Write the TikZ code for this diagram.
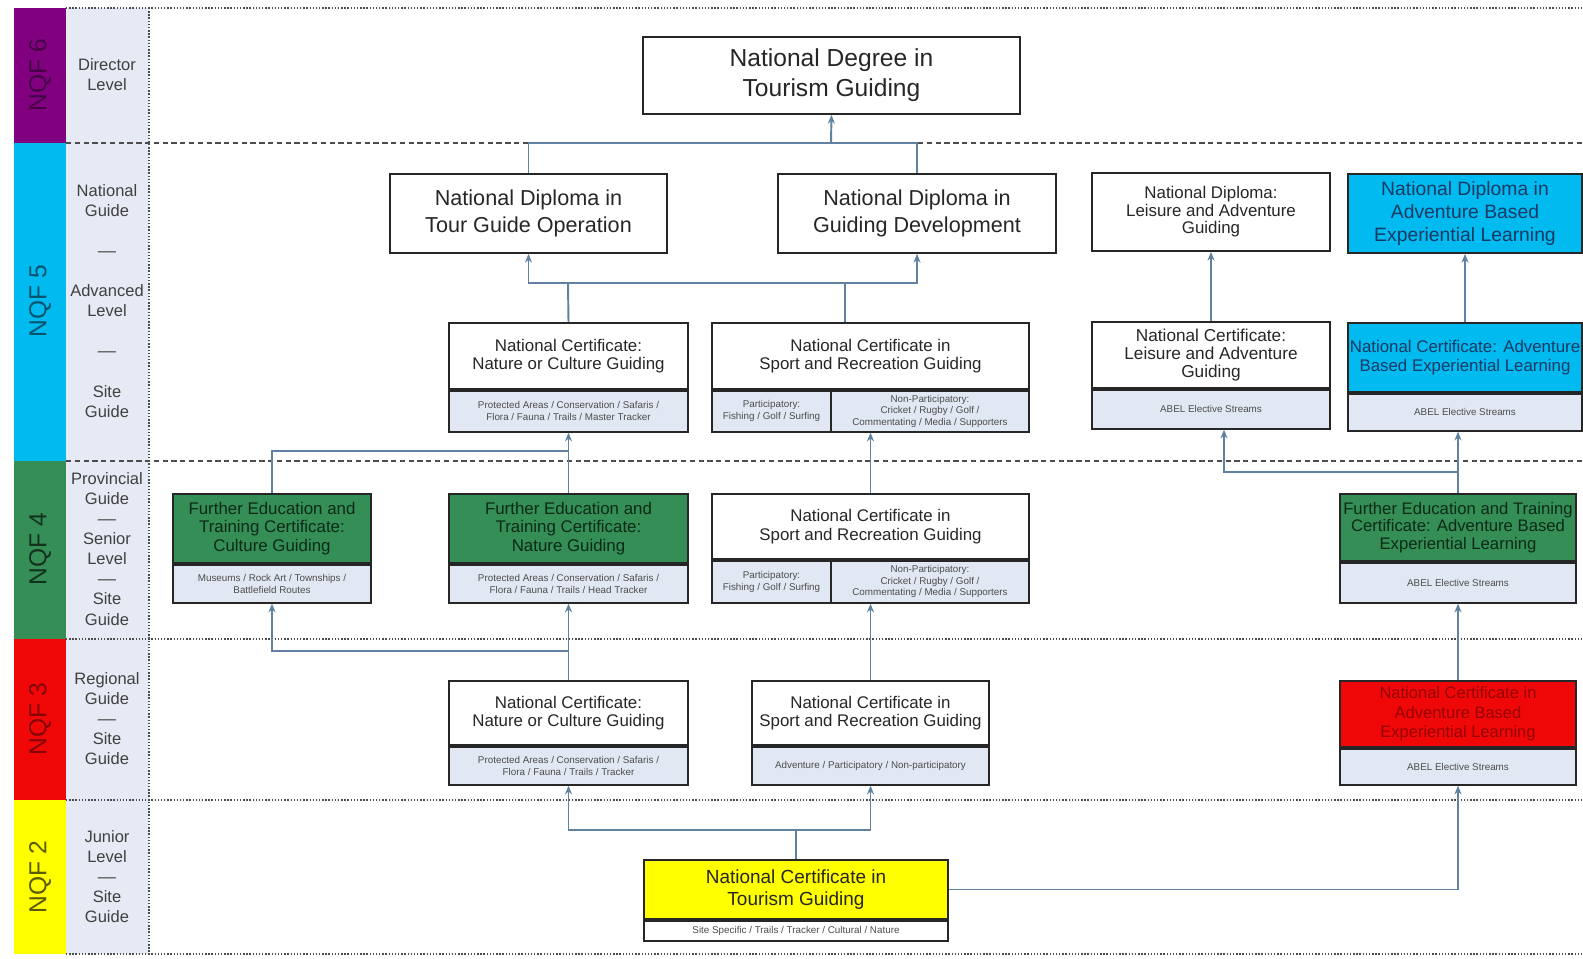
\documentclass[tikz,border=0pt]{standalone}
\usepackage{fontspec}
\setmainfont{Liberation Sans}
\usetikzlibrary{arrows.meta, positioning}

\definecolor{nqfsix}{RGB}{128,0,128}
\definecolor{nqffive}{RGB}{0,186,240}
\definecolor{nqffour}{RGB}{52,142,86}
\definecolor{nqfthree}{RGB}{240,8,8}
\definecolor{nqftwo}{RGB}{255,255,0}
\definecolor{labelgray}{RGB}{229,234,244}
\definecolor{subgray}{RGB}{226,232,243}
\definecolor{linkblue}{RGB}{96,130,160}
\definecolor{bluetext}{RGB}{22,58,100}
\definecolor{greentext}{RGB}{12,42,22}
\definecolor{redtext}{RGB}{150,0,0}

\tikzset{
  certbox/.style={draw=black!85, line width=1pt, align=center, inner sep=1pt, text=black!85},
  subbox/.style={certbox, fill=subgray, text=black!70, font=\fontsize{5.6}{7}\selectfont},
  bigfont/.style={font=\fontsize{14}{17}\selectfont},
  dipfont/.style={font=\fontsize{12.3}{15.3}\selectfont},
  certfont/.style={font=\fontsize{9.6}{10.4}\selectfont},
  link/.style={draw=linkblue, line width=1.1pt},
  bandline/.style={draw=black!70, line width=0.8pt},
  striplabel/.style={rotate=90, font=\fontsize{14}{16}\selectfont},
  levellabel/.style={align=center, text=black!75, font=\fontsize{9.4}{11.4}\selectfont}
}

\begin{document}
\begin{tikzpicture}[x=0.02cm, y=-0.02cm, >={Stealth[length=5pt, width=4pt]}]
    \useasboundingbox (0,0) rectangle (1583,958);

    % Level column
    \fill[nqfsix] (14,8) rectangle (66,143);
    \fill[nqffive] (14,143) rectangle (66,461);
    \fill[nqffour] (14,461) rectangle (66,639);
    \fill[nqfthree] (14,639) rectangle (66,800);
    \fill[nqftwo] (14,800) rectangle (66,954);
    \fill[labelgray] (66,8) rectangle (149,954);

    \node[striplabel, text=nqfsix!55!black] (n6) at (40,75) {NQF 6};
    \node[striplabel, text=nqffive!45!black] (n5) at (40,301) {NQF 5};
    \node[striplabel, text=nqffour!35!black] (n4) at (40,549) {NQF 4};
    \node[striplabel, text=nqfthree!55!black] (n3) at (40,719) {NQF 3};
    \node[striplabel, text=nqftwo!35!black] (n2) at (40,877) {NQF 2};

    \node[levellabel] (l6) at (107,75) {Director\\Level};
    \node[levellabel] (l5) at (107,301) {National\\Guide\\[11.4pt]--{}--\\[11.4pt]Advanced\\Level\\[11.4pt]--{}--\\[11.4pt]Site\\Guide};
    \node[levellabel] (l4) at (107,549) {Provincial\\Guide\\--{}--\\Senior\\Level\\--{}--\\Site\\Guide};
    \node[levellabel] (l3) at (107,719) {Regional\\Guide\\--{}--\\Site\\Guide};
    \node[levellabel] (l2) at (107,877) {Junior\\Level\\--{}--\\Site\\Guide};

    % Band borders
    \draw[bandline, densely dotted] (66,8) -- (1583,8);
    \draw[bandline, dash pattern=on 3pt off 2pt] (66,143) -- (1583,143);
    \draw[bandline, dash pattern=on 3pt off 2pt] (66,461) -- (1583,461);
    \draw[bandline, densely dotted] (66,639) -- (1583,639);
    \draw[bandline, densely dotted] (66,800) -- (1583,800);
    \draw[bandline, densely dotted] (66,954) -- (1583,954);
    \draw[bandline, densely dotted] (149,8) -- (149,954);

    % NQF 6
    \node[certbox, bigfont, minimum width=7.54cm, minimum height=1.54cm] (a) at (831.5,75.5) {National Degree in\\Tourism Guiding};

    % NQF 5 diplomas
    \node[certbox, dipfont, minimum width=5.54cm, minimum height=1.58cm] (b1) at (528.5,213.5) {National Diploma in\\Tour Guide Operation};
    \node[certbox, dipfont, minimum width=5.56cm, minimum height=1.58cm] (b2) at (917,213.5) {National Diploma in\\Guiding Development};
    \node[certbox, font=\fontsize{9.6}{9.9}\selectfont, minimum width=4.76cm, minimum height=1.56cm] (b3) at (1211,212) {National Diploma:\\Leisure and Adventure\\Guiding};
    \node[certbox, fill=nqffive, text=bluetext, font=\fontsize{11}{13.2}\selectfont, minimum width=4.68cm, minimum height=1.58cm] (b4) at (1465,213.5) {National Diploma in\\Adventure Based\\Experiential Learning};

    % NQF 5 certificates
    \node[certbox, certfont, minimum width=4.78cm, minimum height=1.32cm] (c1) at (568.5,356) {National Certificate:\\Nature or Culture Guiding};
    \node[subbox, minimum width=4.78cm, minimum height=0.82cm, below=0pt of c1] (c1s) {Protected Areas / Conservation / Safaris /\\Flora / Fauna / Trails / Master Tracker};
    \node[certbox, certfont, minimum width=6.34cm, minimum height=1.32cm] (c2) at (870.5,356) {National Certificate in\\Sport and Recreation Guiding};
    \node[subbox, minimum width=2.38cm, minimum height=0.82cm, anchor=north west] (c2l) at (c2.south west) {Participatory:\\Fishing / Golf / Surfing};
    \node[subbox, minimum width=3.96cm, minimum height=0.82cm, anchor=north east, font=\fontsize{5.6}{6.6}\selectfont] (c2r) at (c2.south east) {Non-Participatory:\\Cricket / Rugby / Golf /\\Commentating / Media / Supporters};
    \node[certbox, font=\fontsize{9.8}{10}\selectfont, minimum width=4.76cm, minimum height=1.32cm] (c3) at (1211,355) {National Certificate:\\Leisure and Adventure\\Guiding};
    \node[subbox, minimum width=4.76cm, minimum height=0.78cm, below=0pt of c3] (c3s) {ABEL Elective Streams};
    \node[certbox, certfont, fill=nqffive, text=bluetext, inner sep=0pt, minimum width=4.68cm, minimum height=1.38cm] (c4) at (1465,357.5) {National Certificate: Adventure\\Based Experiential Learning};
    \node[subbox, minimum width=4.68cm, minimum height=0.74cm, below=0pt of c4] (c4s) {ABEL Elective Streams};

    % NQF 4
    \node[certbox, certfont, fill=nqffour, text=greentext, minimum width=3.96cm, minimum height=1.38cm] (d1) at (272,528.5) {Further Education and\\Training Certificate:\\Culture Guiding};
    \node[subbox, minimum width=3.96cm, minimum height=0.76cm, below=0pt of d1] (d1s) {Museums / Rock Art / Townships /\\Battlefield Routes};
    \node[certbox, certfont, fill=nqffour, text=greentext, minimum width=4.78cm, minimum height=1.38cm] (d2) at (568.5,528.5) {Further Education and\\Training Certificate:\\Nature Guiding};
    \node[subbox, minimum width=4.78cm, minimum height=0.76cm, below=0pt of d2] (d2s) {Protected Areas / Conservation / Safaris /\\Flora / Fauna / Trails / Head Tracker};
    \node[certbox, certfont, minimum width=6.34cm, minimum height=1.30cm] (d3) at (870.5,526.5) {National Certificate in\\Sport and Recreation Guiding};
    \node[subbox, minimum width=2.38cm, minimum height=0.84cm, anchor=north west] (d3l) at (d3.south west) {Participatory:\\Fishing / Golf / Surfing};
    \node[subbox, minimum width=3.96cm, minimum height=0.84cm, anchor=north east, font=\fontsize{5.6}{6.6}\selectfont] (d3r) at (d3.south east) {Non-Participatory:\\Cricket / Rugby / Golf /\\Commentating / Media / Supporters};
    \node[certbox, font=\fontsize{9.5}{9.9}\selectfont, fill=nqffour, text=greentext, inner sep=0pt, minimum width=4.72cm, minimum height=1.34cm] (d4) at (1458,527.5) {Further Education and Training\\Certificate: Adventure Based\\Experiential Learning};
    \node[subbox, minimum width=4.72cm, minimum height=0.80cm, below=0pt of d4] (d4s) {ABEL Elective Streams};

    % NQF 3
    \node[certbox, certfont, minimum width=4.78cm, minimum height=1.28cm] (e1) at (568.5,713) {National Certificate:\\Nature or Culture Guiding};
    \node[subbox, minimum width=4.78cm, minimum height=0.76cm, below=0pt of e1] (e1s) {Protected Areas / Conservation / Safaris /\\Flora / Fauna / Trails / Tracker};
    \node[certbox, certfont, minimum width=4.74cm, minimum height=1.28cm] (e2) at (870.5,713) {National Certificate in\\Sport and Recreation Guiding};
    \node[subbox, minimum width=4.74cm, minimum height=0.76cm, below=0pt of e2] (e2s) {Adventure / Participatory / Non-participatory};
    \node[certbox, font=\fontsize{9.4}{11.2}\selectfont, fill=nqfthree, text=redtext, minimum width=4.72cm, minimum height=1.32cm] (e3) at (1458,714) {National Certificate in\\Adventure Based\\Experiential Learning};
    \node[subbox, minimum width=4.72cm, minimum height=0.72cm, below=0pt of e3] (e3s) {ABEL Elective Streams};

    % NQF 2
    \node[certbox, font=\fontsize{10.8}{13}\selectfont, fill=nqftwo, minimum width=6.08cm, minimum height=1.18cm] (f) at (796,889.5) {National Certificate in\\Tourism Guiding};
    \node[subbox, fill=white, minimum width=6.08cm, minimum height=0.40cm, below=0pt of f] (fs) {Site Specific / Trails / Tracker / Cultural / Nature};

    % Links NQF 5 -> NQF 6
    \coordinate (j6) at (831,143);
    \draw[link] (b1.north) |- (j6) -| (b2.north);
    \draw[link, ->] (j6) -- (a.south);

    % Links NQF 5 certificates -> diplomas
    \coordinate (j5) at (568,283);
    \coordinate (c2top) at ([xshift=-0.51cm]c2.north);
    \draw[link] (c1.north) -- (j5);
    \draw[link, ->] (j5) -| (b1.south);
    \draw[link, ->] (j5) -| (b2.south);
    \draw[link] (c2top) -- (c2top |- j5);
    \draw[link, ->] (c3.north) -- (b3.south);
    \draw[link, ->] (c4.north) -- (b4.south);

    % Links NQF 4 -> NQF 5
    \coordinate (j4a) at (568,451);
    \coordinate (j4b) at (1458,472);
    \coordinate (c3bot) at ([xshift=0.26cm]c3s.south);
    \draw[link] (d1.north) |- (j4a);
    \draw[link, ->] (d2.north) -- (c1s.south);
    \draw[link, ->] (d3.north) -- (d3.north |- c2r.south);
    \draw[link] (d4.north) -- (j4b);
    \draw[link, ->] (j4b) -| (c3bot);
    \draw[link, ->] (j4b) -- (j4b |- c4s.south);

    % Links NQF 3 -> NQF 4
    \coordinate (j3) at (568,651);
    \draw[link, ->] (e1.north) -- (d2s.south);
    \draw[link, ->] (j3) -| (d1s.south);
    \draw[link, ->] (e2.north) -- (e2.north |- d3r.south);
    \draw[link, ->] (e3.north) -- (d4s.south);

    % Links NQF 2 -> NQF 3
    \coordinate (j2) at (796,830);
    \draw[link] (f.north) -- (j2);
    \draw[link, ->] (j2) -| (e1s.south);
    \draw[link, ->] (j2) -| (e2s.south);
    \draw[link, ->] (f.east) -| (e3s.south);
\end{tikzpicture}
\end{document}
